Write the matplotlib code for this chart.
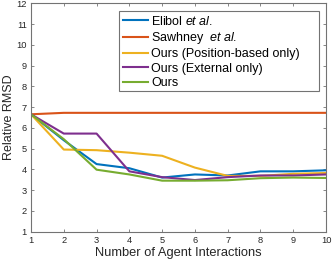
import matplotlib
matplotlib.use("Agg")
from matplotlib import pyplot as plt
from matplotlib.patches import Rectangle

plt.rcParams['font.family'] = ['Liberation Sans', 'DejaVu Sans']
plt.rcParams['mathtext.fontset'] = 'custom'
plt.rcParams['mathtext.rm'] = 'Liberation Sans'
plt.rcParams['mathtext.it'] = 'Liberation Sans:italic'

interactions = [1, 2, 3, 4, 5, 6, 7, 8, 9, 10]
elibol = [6.65, 5.40, 4.25, 4.05, 3.60, 3.75, 3.70, 3.90, 3.90, 3.95]
sawhney = [6.65, 6.72, 6.72, 6.72, 6.72, 6.72, 6.72, 6.72, 6.72, 6.72]
ours_position = [6.65, 4.95, 4.92, 4.80, 4.65, 4.08, 3.68, 3.68, 3.78, 3.82]
ours_external = [6.65, 5.72, 5.72, 3.90, 3.62, 3.48, 3.62, 3.70, 3.70, 3.75]
ours = [6.65, 5.45, 3.98, 3.75, 3.45, 3.45, 3.47, 3.57, 3.60, 3.58]

series = [
    (elibol, r"Elibol $\mathit{et\ al.}$", (0, 0.447, 0.741)),
    (sawhney, r"Sawhney $\mathit{\ et\ al.}$", (0.85, 0.325, 0.098)),
    (ours_position, "Ours (Position-based only)", (0.929, 0.694, 0.125)),
    (ours_external, "Ours (External only)", (0.494, 0.184, 0.556)),
    (ours, "Ours", (0.466, 0.674, 0.188)),
]

fig = plt.figure(figsize=(3.32, 2.64), dpi=100)
ax = fig.add_axes([0.0934, 0.1231, 0.8886, 0.8644])

for values, label, color in series:
    ax.plot(interactions, values, color=color, lw=1.5, label=label)

ax.set_xlim(1, 10)
ax.set_ylim(1, 12)
ax.set_xticks(range(1, 11))
ax.set_yticks(range(1, 13))

grey = (0.15, 0.15, 0.15)
edge = (0.45, 0.45, 0.45)
for s in ax.spines.values():
    s.set_color(edge)
    s.set_linewidth(0.8)
ax.tick_params(direction='in', length=2.5, width=0.6, colors=edge,
               labelcolor=grey, labelsize=6.7, top=True, right=True, pad=3)

ax.set_xlabel("Number of Agent Interactions", fontsize=9.3, color=grey, labelpad=2)
ax.set_ylabel("Relative RMSD", fontsize=9.0, color=grey, labelpad=1)

# legend box is wider than its contents, MATLAB style
box = Rectangle((0.298, 0.616), 0.678, 0.351, transform=ax.transAxes,
                facecolor='white', edgecolor=edge, lw=0.8, zorder=4)
ax.add_patch(box)
leg = ax.legend(loc='upper left', bbox_to_anchor=(0.298, 0.967), borderaxespad=0,
                fontsize=9.0, handlelength=2.0, handletextpad=0.3, labelspacing=0.19,
                borderpad=0.3, frameon=False)
leg.set_zorder(5)

fig.savefig("out.png", dpi=100)
